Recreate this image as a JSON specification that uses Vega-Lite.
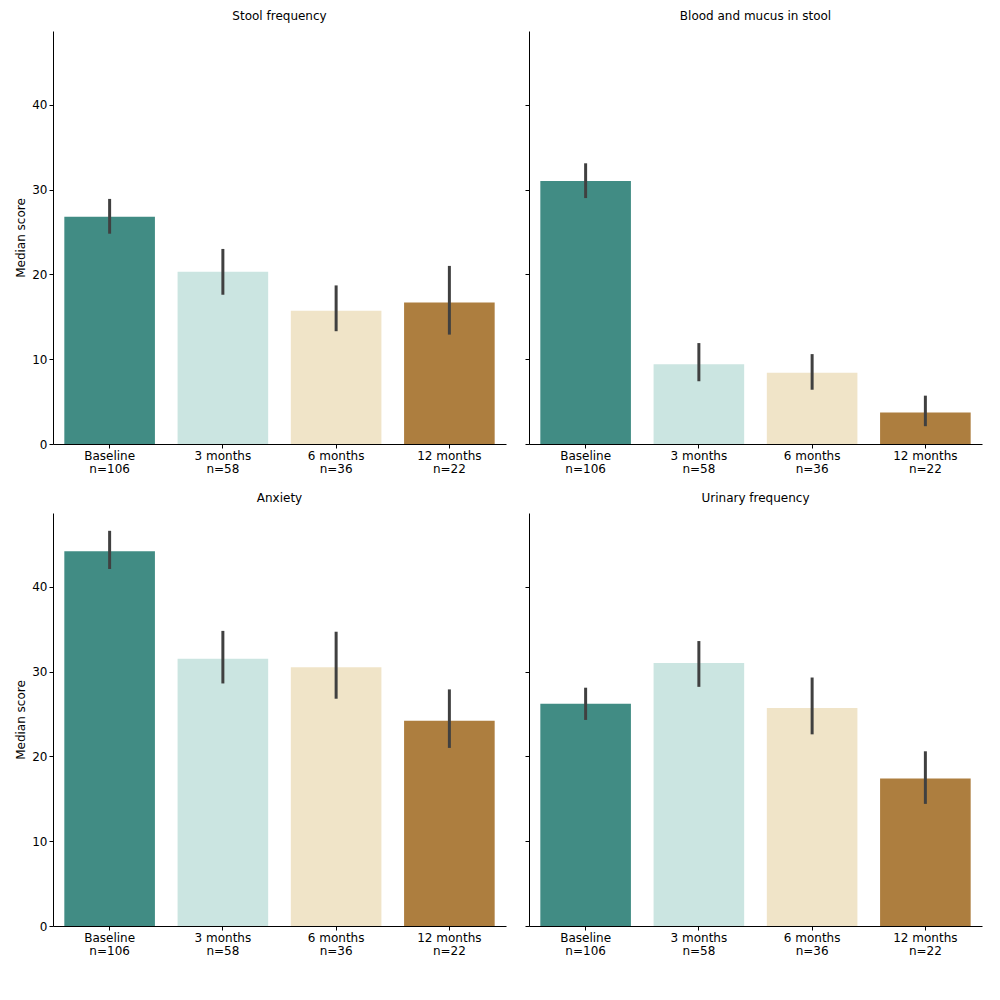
{
  "$schema": "https://vega.github.io/schema/vega-lite/v6.json",
  "padding": {"left": 14, "top": 10, "right": 5, "bottom": 5},
  "config": {
    "font": "DejaVu Sans",
    "view": {"stroke": null},
    "axis": {"grid": false, "domainColor": "black", "tickColor": "black", "labelColor": "black", "titleColor": "black", "labelFontSize": 12, "titleFontSize": 12, "titleFontWeight": "normal", "tickSize": 4},
    "title": {"fontSize": 12, "fontWeight": "normal", "color": "black", "offset": 8},
    "concat": {"spacing": 18}
  },
  "data": {"values": [
    {"panel": "Stool frequency", "p": 1, "time": "Baseline|n=106", "t": 0, "v": 26.8, "lo": 24.8, "hi": 28.9},
    {"panel": "Stool frequency", "p": 1, "time": "3 months|n=58", "t": 1, "v": 20.3, "lo": 17.6, "hi": 23.0},
    {"panel": "Stool frequency", "p": 1, "time": "6 months|n=36", "t": 2, "v": 15.7, "lo": 13.3, "hi": 18.7},
    {"panel": "Stool frequency", "p": 1, "time": "12 months|n=22", "t": 3, "v": 16.7, "lo": 12.9, "hi": 21.0},
    {"panel": "Blood and mucus in stool", "p": 2, "time": "Baseline|n=106", "t": 0, "v": 31.0, "lo": 29.0, "hi": 33.1},
    {"panel": "Blood and mucus in stool", "p": 2, "time": "3 months|n=58", "t": 1, "v": 9.4, "lo": 7.4, "hi": 11.9},
    {"panel": "Blood and mucus in stool", "p": 2, "time": "6 months|n=36", "t": 2, "v": 8.4, "lo": 6.4, "hi": 10.6},
    {"panel": "Blood and mucus in stool", "p": 2, "time": "12 months|n=22", "t": 3, "v": 3.7, "lo": 2.1, "hi": 5.7},
    {"panel": "Anxiety", "p": 3, "time": "Baseline|n=106", "t": 0, "v": 44.2, "lo": 42.1, "hi": 46.6},
    {"panel": "Anxiety", "p": 3, "time": "3 months|n=58", "t": 1, "v": 31.5, "lo": 28.6, "hi": 34.8},
    {"panel": "Anxiety", "p": 3, "time": "6 months|n=36", "t": 2, "v": 30.5, "lo": 26.8, "hi": 34.7},
    {"panel": "Anxiety", "p": 3, "time": "12 months|n=22", "t": 3, "v": 24.2, "lo": 21.0, "hi": 27.9},
    {"panel": "Urinary frequency", "p": 4, "time": "Baseline|n=106", "t": 0, "v": 26.2, "lo": 24.3, "hi": 28.1},
    {"panel": "Urinary frequency", "p": 4, "time": "3 months|n=58", "t": 1, "v": 31.0, "lo": 28.2, "hi": 33.6},
    {"panel": "Urinary frequency", "p": 4, "time": "6 months|n=36", "t": 2, "v": 25.7, "lo": 22.6, "hi": 29.3},
    {"panel": "Urinary frequency", "p": 4, "time": "12 months|n=22", "t": 3, "v": 17.4, "lo": 14.4, "hi": 20.6}
  ]},
  "vconcat": [
    {"hconcat": [
      {"title": "Stool frequency", "transform": [{"filter": "datum.p == 1"}], "width": 453, "height": 413,
       "encoding": {"x": {"field": "time", "type": "nominal", "sort": {"field": "t"}, "title": null, "scale": {"paddingInner": 0.2, "paddingOuter": 0.1}, "axis": {"labelAngle": 0, "labelExpr": "split(datum.label, '|')", "labelLineHeight": 13}}},
       "layer": [
         {"mark": "bar", "encoding": {"y": {"field": "v", "type": "quantitative", "title": "Median score", "scale": {"domain": [0, 48.7], "nice": false}, "axis": {"values": [0, 10, 20, 30, 40]}}, "color": {"field": "t", "type": "ordinal", "legend": null, "scale": {"domain": [0, 1, 2, 3], "range": ["#418C84", "#CBE5E1", "#F0E4C8", "#AD7E3F"]}}}},
         {"mark": {"type": "rule", "color": "#404040", "strokeWidth": 3}, "encoding": {"y": {"field": "lo", "type": "quantitative"}, "y2": {"field": "hi"}}}
       ]},
      {"title": "Blood and mucus in stool", "transform": [{"filter": "datum.p == 2"}], "width": 453, "height": 413,
       "encoding": {"x": {"field": "time", "type": "nominal", "sort": {"field": "t"}, "title": null, "scale": {"paddingInner": 0.2, "paddingOuter": 0.1}, "axis": {"labelAngle": 0, "labelExpr": "split(datum.label, '|')", "labelLineHeight": 13}}},
       "layer": [
         {"mark": "bar", "encoding": {"y": {"field": "v", "type": "quantitative", "title": null, "scale": {"domain": [0, 48.7], "nice": false}, "axis": {"values": [0, 10, 20, 30, 40], "labels": false}}, "color": {"field": "t", "type": "ordinal", "legend": null, "scale": {"domain": [0, 1, 2, 3], "range": ["#418C84", "#CBE5E1", "#F0E4C8", "#AD7E3F"]}}}},
         {"mark": {"type": "rule", "color": "#404040", "strokeWidth": 3}, "encoding": {"y": {"field": "lo", "type": "quantitative"}, "y2": {"field": "hi"}}}
       ]}
    ]},
    {"hconcat": [
      {"title": "Anxiety", "transform": [{"filter": "datum.p == 3"}], "width": 453, "height": 413,
       "encoding": {"x": {"field": "time", "type": "nominal", "sort": {"field": "t"}, "title": null, "scale": {"paddingInner": 0.2, "paddingOuter": 0.1}, "axis": {"labelAngle": 0, "labelExpr": "split(datum.label, '|')", "labelLineHeight": 13}}},
       "layer": [
         {"mark": "bar", "encoding": {"y": {"field": "v", "type": "quantitative", "title": "Median score", "scale": {"domain": [0, 48.7], "nice": false}, "axis": {"values": [0, 10, 20, 30, 40]}}, "color": {"field": "t", "type": "ordinal", "legend": null, "scale": {"domain": [0, 1, 2, 3], "range": ["#418C84", "#CBE5E1", "#F0E4C8", "#AD7E3F"]}}}},
         {"mark": {"type": "rule", "color": "#404040", "strokeWidth": 3}, "encoding": {"y": {"field": "lo", "type": "quantitative"}, "y2": {"field": "hi"}}}
       ]},
      {"title": "Urinary frequency", "transform": [{"filter": "datum.p == 4"}], "width": 453, "height": 413,
       "encoding": {"x": {"field": "time", "type": "nominal", "sort": {"field": "t"}, "title": null, "scale": {"paddingInner": 0.2, "paddingOuter": 0.1}, "axis": {"labelAngle": 0, "labelExpr": "split(datum.label, '|')", "labelLineHeight": 13}}},
       "layer": [
         {"mark": "bar", "encoding": {"y": {"field": "v", "type": "quantitative", "title": null, "scale": {"domain": [0, 48.7], "nice": false}, "axis": {"values": [0, 10, 20, 30, 40], "labels": false}}, "color": {"field": "t", "type": "ordinal", "legend": null, "scale": {"domain": [0, 1, 2, 3], "range": ["#418C84", "#CBE5E1", "#F0E4C8", "#AD7E3F"]}}}},
         {"mark": {"type": "rule", "color": "#404040", "strokeWidth": 3}, "encoding": {"y": {"field": "lo", "type": "quantitative"}, "y2": {"field": "hi"}}}
       ]}
    ]}
  ]
}
